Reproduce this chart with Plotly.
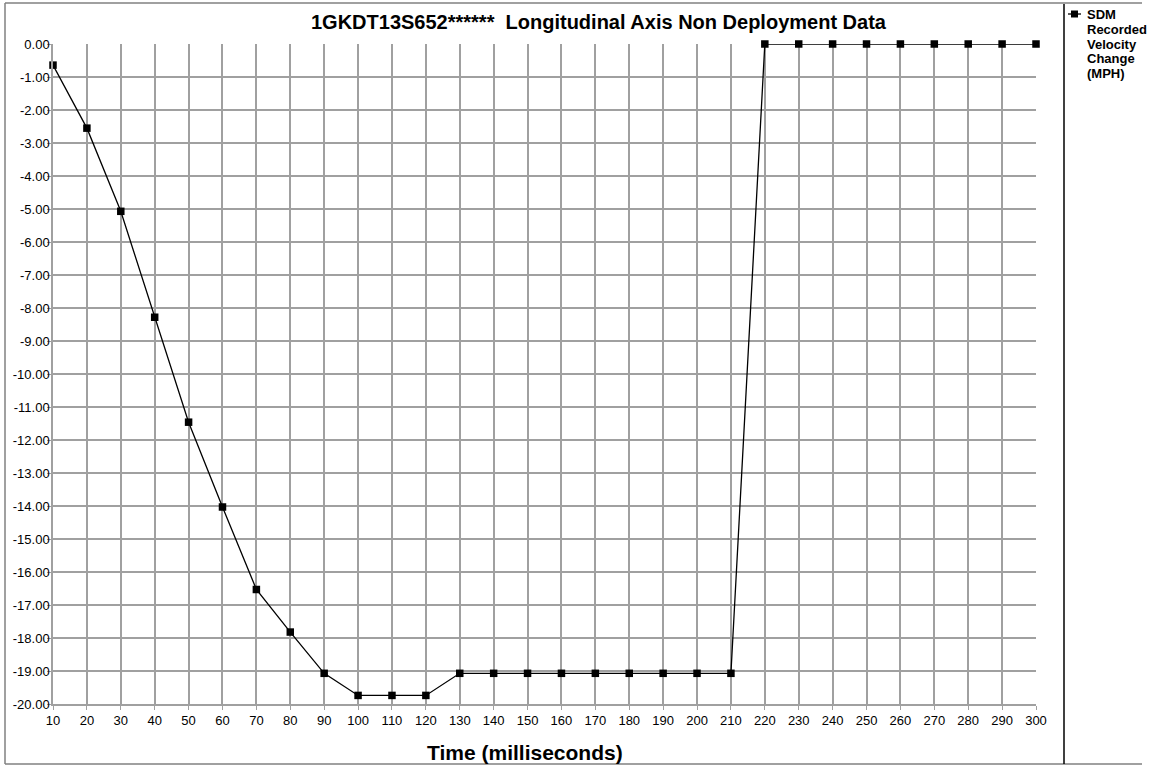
import plotly.graph_objects as go

time_ms = [10, 20, 30, 40, 50, 60, 70, 80, 90, 100, 110, 120, 130, 140, 150,
           160, 170, 180, 190, 200, 210, 220, 230, 240, 250, 260, 270, 280, 290, 300]
velocity_change = [-0.64, -2.55, -5.07, -8.28, -11.46, -14.03, -16.53, -17.82, -19.07,
                   -19.74, -19.74, -19.74, -19.07, -19.07, -19.07, -19.07, -19.07, -19.07,
                   -19.07, -19.07, -19.07, 0, 0, 0, 0, 0, 0, 0, 0, 0]
y_ticks = [-i for i in range(0, 21)]
y_tick_labels = [f"{v:.2f}" for v in y_ticks]
x_ticks = list(range(10, 301, 10))

legend_lines = ["SDM", "Recorded", "Velocity", "Change", "(MPH)"]
title_text = "1GKDT13S652******  Longitudinal Axis Non Deployment Data"
x_title = "Time (milliseconds)"

W, H = 1154, 765
L, R, T, B = 53, 1036, 44, 704


def px(xp):
    return (xp - L) / (R - L)


def py(yp):
    return (B - yp) / (B - T)


FONT = "Liberation Sans, Arial, sans-serif"
grid_col = "#a0a0a0"

fig = go.Figure()
fig.add_trace(go.Scatter(
    x=time_ms, y=velocity_change, mode="lines+markers", name=" ".join(legend_lines),
    line=dict(color="black", width=1.3),
    marker=dict(symbol="square", size=7.5, color="black"),
    cliponaxis=False, showlegend=False,
))

# legend key (drawn beside the plot, like the reference's legend box)
legend_shapes = [
    dict(type="line", xref="paper", yref="paper", x0=px(1068), x1=px(1081), y0=py(14), y1=py(14),
         line=dict(color="black", width=1.3)),
    dict(type="rect", xref="paper", yref="paper", x0=px(1071), x1=px(1078), y0=py(10.5), y1=py(17.5),
         line=dict(color="black", width=0), fillcolor="black"),
]
legend_annotations = [
    dict(text=line, x=px(1085), y=py(14 + 15 * i), xref="paper", yref="paper",
         showarrow=False, xanchor="left", yanchor="middle", align="left",
         font=dict(family=FONT, size=13, color="black", weight="bold"))
    for i, line in enumerate(legend_lines)
]

fig.update_layout(
    width=W, height=H,
    margin=dict(l=L, r=W - R, t=T, b=H - B, autoexpand=False),
    paper_bgcolor="white", plot_bgcolor="white",
    font=dict(family=FONT, size=13, color="black"),
    xaxis=dict(range=[10, 300], tickvals=x_ticks, showgrid=True, gridcolor=grid_col,
               gridwidth=1.5, showline=True, linecolor=grid_col, linewidth=1.5,
               ticks="outside", ticklen=4, tickcolor=grid_col, zeroline=False,
               automargin=False,
               tickfont=dict(family=FONT, size=13, color="black")),
    yaxis=dict(range=[-20, 0], tickvals=y_ticks, ticktext=y_tick_labels, showgrid=True,
               gridcolor=grid_col, gridwidth=1.5, showline=True, linecolor=grid_col,
               linewidth=1.5, ticks="outside", ticklen=4, tickcolor=grid_col,
               zeroline=False, automargin=False, ticklabelstandoff=-5,
               tickfont=dict(family=FONT, size=13, color="black")),
    annotations=[
        dict(text=title_text, x=px(599), y=py(22), xref="paper", yref="paper",
             showarrow=False, xanchor="center", yanchor="middle",
             font=dict(family=FONT, size=20, color="black", weight="bold")),
        dict(text=x_title, x=px(525), y=py(752), xref="paper", yref="paper",
             showarrow=False, xanchor="center", yanchor="middle",
             font=dict(family=FONT, size=21, color="black", weight="bold")),
    ] + legend_annotations,
    shapes=[
        dict(type="line", xref="paper", yref="paper", x0=px(5), x1=px(1142), y0=py(3), y1=py(3),
             line=dict(color="#808080", width=1.5)),
        dict(type="line", xref="paper", yref="paper", x0=px(5), x1=px(5), y0=py(3), y1=py(764),
             line=dict(color="#808080", width=1.5)),
        dict(type="line", xref="paper", yref="paper", x0=px(5), x1=px(1142), y0=py(764), y1=py(764),
             line=dict(color="#808080", width=1.5)),
        dict(type="line", xref="paper", yref="paper", x0=px(1064), x1=px(1064), y0=py(4), y1=py(764),
             line=dict(color="black", width=1.5)),
    ] + legend_shapes,
)

fig.write_html("out.html", config={"displayModeBar": False},
               post_script="document.body.style.margin='0';")
